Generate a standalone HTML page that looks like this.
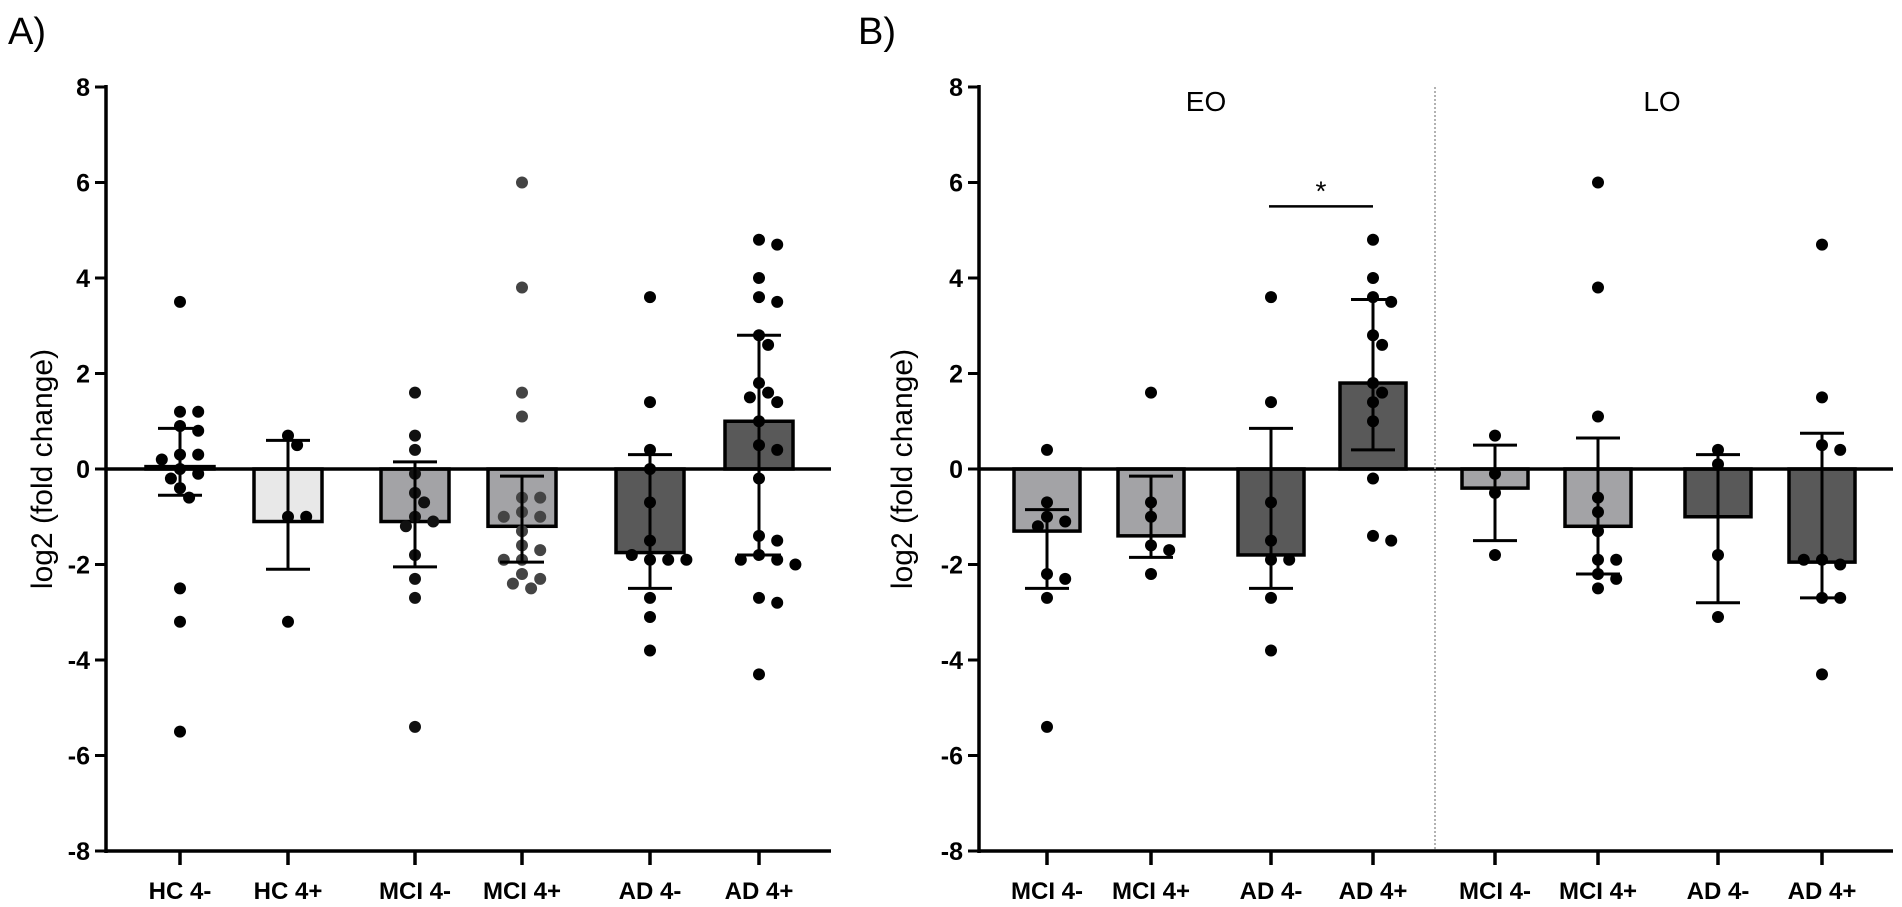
<!DOCTYPE html>
<html><head><meta charset="utf-8"><style>
html,body{margin:0;padding:0;background:#fff;}
svg{display:block;font-family:"Liberation Sans",sans-serif;}
</style></head><body>
<svg id="chart" width="1902" height="907" viewBox="0 0 1902 907">
<text x="8" y="44" font-size="38">A)</text>
<text x="858" y="44" font-size="38">B)</text>
<text x="1206" y="111" font-size="28" text-anchor="middle">EO</text>
<text x="1662" y="111" font-size="28" text-anchor="middle">LO</text>
</svg>
<script>
const yTicks=[8,6,4,2,0,-2,-4,-6,-8];
const catsA=["HC 4-","HC 4+","MCI 4-","MCI 4+","AD 4-","AD 4+"];
const meansA=[0.05,-1.1,-1.1,-1.2,-1.75,1.0];
const errHiA=[0.85,0.6,0.15,-0.15,0.3,2.8];
const errLoA=[-0.55,-2.1,-2.05,-1.95,-2.5,-1.8];
const ptsA=[
[3.5,1.2,1.2,0.9,0.8,0.3,0.3,0.2,0,-0.1,-0.2,-0.4,-0.6,-2.5,-3.2,-5.5],
[0.7,0.5,-1,-1,-3.2],
[1.6,0.7,0.4,-0.1,-0.5,-0.7,-1.0,-1.1,-1.2,-1.8,-2.3,-2.7,-5.4],
[6,3.8,1.6,1.1,-0.6,-0.6,-0.9,-1,-1,-1.3,-1.6,-1.7,-1.9,-1.9,-2.2,-2.3,-2.4,-2.5],
[3.6,1.4,0.4,0,-0.7,-1.5,-1.9,-1.9,-1.8,-1.9,-2.7,-3.1,-3.8],
[4.8,4.7,4.0,3.6,3.5,2.8,2.6,1.8,1.6,1.5,1.4,1.0,0.5,0.4,-0.2,-1.4,-1.5,-1.8,-1.9,-1.9,-2.0,-2.7,-2.8,-4.3]];
const catsB=["MCI 4-","MCI 4+","AD 4-","AD 4+","MCI 4-","MCI 4+","AD 4-","AD 4+"];
const meansB=[-1.3,-1.4,-1.8,1.8,-0.4,-1.2,-1.0,-1.95];
const errHiB=[-0.85,-0.15,0.85,3.55,0.5,0.65,0.3,0.75];
const errLoB=[-2.5,-1.85,-2.5,0.4,-1.5,-2.2,-2.8,-2.7];
const ptsB=[
[0.4,-0.7,-1.0,-1.1,-1.2,-2.2,-2.3,-2.7,-5.4],
[1.6,-0.7,-1.0,-1.6,-1.7,-2.2],
[3.6,1.4,-0.7,-1.5,-1.9,-1.9,-2.7,-3.8],
[4.8,4.0,3.6,3.5,2.8,2.6,1.8,1.6,1.4,1.0,-0.2,-1.4,-1.5],
[0.7,-0.1,-0.5,-1.8],
[6,3.8,1.1,-0.6,-0.9,-1.3,-1.9,-1.9,-2.2,-2.3,-2.5],
[0.4,0.1,-1.8,-3.1],
[4.7,1.5,0.5,0.4,-1.9,-2.0,-1.9,-2.7,-2.7,-4.3]];
const sigVal=5.5;

const svg=document.getElementById('chart');
const NS='http://www.w3.org/2000/svg';
function y(v){return 469-47.75*v;}
function mk(tag,attrs,parent){const e=document.createElementNS(NS,tag);for(const k in attrs)e.setAttribute(k,attrs[k]);(parent||svg).appendChild(e);return e;}

function panel(opts){
  const g=mk('g',{});
  
  
  yTicks.forEach(t=>{
    const l=mk('line',{x1:opts.ax-11,x2:opts.ax,y1:y(t),y2:y(t),stroke:'#000','stroke-width':3},g);
    
    
    const tx=mk('text',{x:opts.ax-16,y:y(t)+9,'font-size':25,'font-weight':'bold','text-anchor':'end'},g);
    tx.textContent=t;
    
    
  });
  const tt=mk('text',{transform:`translate(${opts.titleX},${y(0)}) rotate(-90)`,'font-size':30,'text-anchor':'middle'},g);
  tt.textContent='log2 (fold change)';
  
  
  opts.cats.forEach((c,i)=>{
    const cx=opts.xs[i], w=opts.bw;
    const m=opts.means[i];
    const b=mk('rect',{x:cx-w/2,y:Math.min(y(m),y(0)),width:w,height:Math.abs(y(m)-y(0)),fill:opts.colors[i],stroke:'#000','stroke-width':3.5},g);
    
    
  });
  const xa=mk('line',{x1:opts.ax,x2:opts.axEnd,y1:y(-8),y2:y(-8),stroke:'#000','stroke-width':3.5},g);
  
  
  const ya=mk('line',{x1:opts.ax,x2:opts.ax,y1:y(8)-2,y2:y(-8)+2,stroke:'#000','stroke-width':3.5},g);
  
  
  const zl=mk('line',{x1:opts.ax,x2:opts.axEnd,y1:y(0),y2:y(0),stroke:'#000','stroke-width':3.5},g);
  
  
  opts.cats.forEach((c,i)=>{
    const cx=opts.xs[i];
    const tk=mk('line',{x1:cx,x2:cx,y1:y(-8),y2:y(-8)+14,stroke:'#000','stroke-width':3.5},g);
    
    
    const lb=mk('text',{x:cx,y:899,'font-size':24,'font-weight':'bold','text-anchor':'middle'},g);
    lb.textContent=c;
    
    
    const placed=[];const r=6,d=13;
    opts.pts[i].forEach(v=>{
      const py=y(v);let off=0;
      for(let k=0;k<20;k++){
        const cand=k===0?0:(k%2?1:-1)*Math.ceil(k/2)*d*0.7;
        if(placed.every(p=>Math.hypot(p[0]-cand,p[1]-py)>=2*r+1)){off=cand;break;}
      }
      placed.push([off,py]);
      const dot=mk('circle',{cx:cx+off,cy:py,r:r,fill:opts.dotColor[i]},g);
      
      
    });
    const hi=y(opts.errHi[i]),lo=y(opts.errLo[i]);
    const ev=mk('line',{x1:cx,x2:cx,y1:hi,y2:lo,stroke:'#000','stroke-width':3},g);
    
    
    [hi,lo].forEach(yy=>{
      const cap=mk('line',{x1:cx-22,x2:cx+22,y1:yy,y2:yy,stroke:'#000','stroke-width':3},g);
      
      
    });
  });
}
const mci='#a3a3a6',ad='#595959';
panel({name:'panel-a',ax:106,axEnd:831,titleX:52,bw:68,cats:catsA,xs:[180,288,415,522,650,759],
  means:meansA,errHi:errHiA,errLo:errLoA,pts:ptsA,
  colors:['#fff','#e8e8e8',mci,mci,ad,ad],dotColor:['#000','#000','#111','#444','#000','#000']});
panel({name:'panel-b',ax:979,axEnd:1893,titleX:912,bw:66,cats:catsB,xs:[1047,1151,1271,1373,1495,1598,1718,1822],
  means:meansB,errHi:errHiB,errLo:errLoB,pts:ptsB,
  colors:[mci,mci,ad,ad,mci,mci,ad,ad],dotColor:Array(8).fill('#000')});
const dv=mk('line',{x1:1435,x2:1435,y1:y(8),y2:y(-8),stroke:'#999','stroke-width':1.5,'stroke-dasharray':'2,2'});


const sl=mk('line',{x1:1269,x2:1373,y1:y(sigVal),y2:y(sigVal),stroke:'#000','stroke-width':2.5});


const st=mk('text',{x:1321,y:y(sigVal)-6,'font-size':28,'text-anchor':'middle'});
st.textContent='*';


</script>
</body></html>
